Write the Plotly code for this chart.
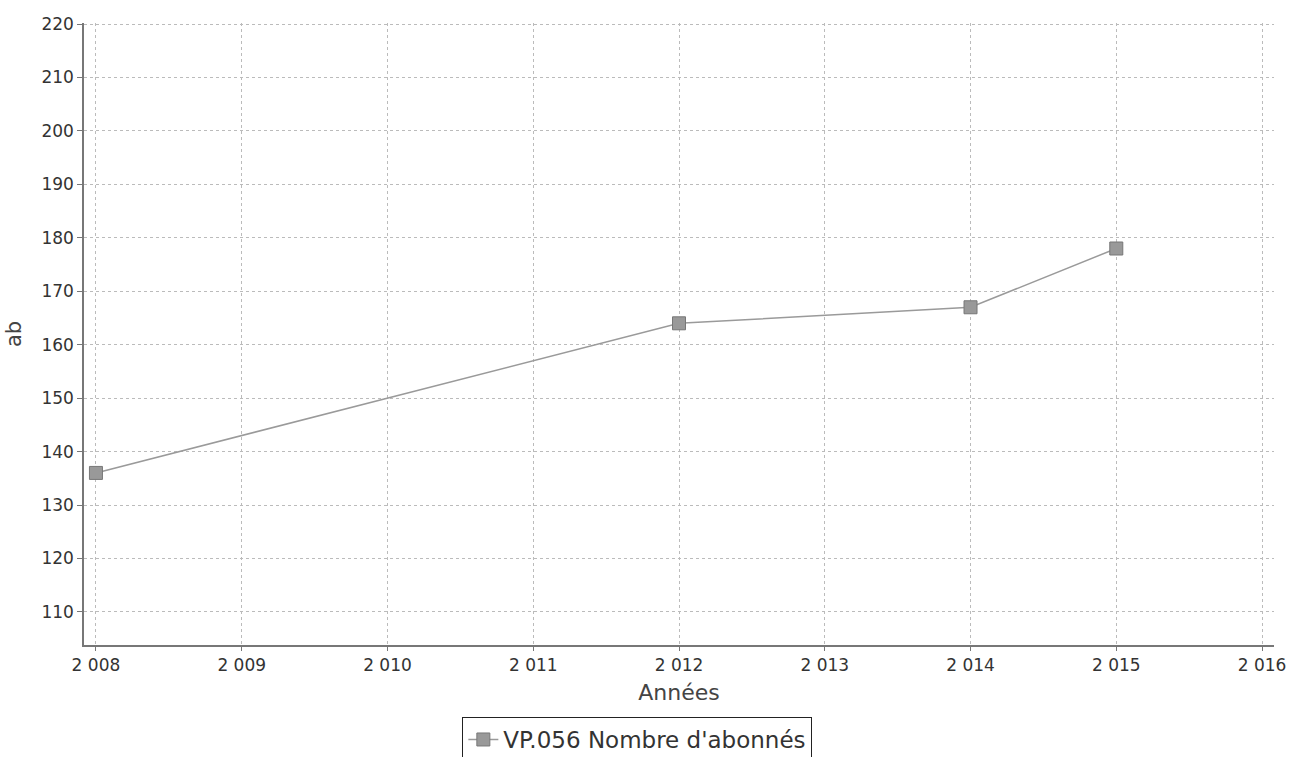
import plotly.graph_objects as go

years = [2008, 2012, 2014, 2015]
abonnes = [136, 164, 167, 178]
series_name = "VP.056 Nombre d'abonnés"
x_ticks = [2008, 2009, 2010, 2011, 2012, 2013, 2014, 2015, 2016]
x_ticklabels = ["2 008", "2 009", "2 010", "2 011", "2 012", "2 013", "2 014", "2 015", "2 016"]
y_ticks = [110, 120, 130, 140, 150, 160, 170, 180, 190, 200, 210, 220]

font_family = "DejaVu Sans"

fig = go.Figure()
fig.add_trace(go.Scatter(
    x=years, y=abonnes, mode="lines+markers", name=series_name,
    line=dict(color="#9a9a9a", width=1.5),
    marker=dict(symbol="square", size=13, color="#999999",
                line=dict(color="#777777", width=1)),
    showlegend=True,
))

fig.update_layout(
    width=1291, height=757,
    margin=dict(l=84, r=17, t=23, b=112),
    paper_bgcolor="white", plot_bgcolor="white",
    font=dict(family=font_family, color="#333333"),
    showlegend=True,
    legend=dict(
        x=0.465, y=0.0528, xanchor="center", yanchor="top",
        xref="paper", yref="container",
        orientation="h",
        bordercolor="#222222", borderwidth=1, bgcolor="white",
        font=dict(size=23, family=font_family, color="#333333"),
    ),
    xaxis=dict(
        range=[2007.918, 2016.082],
        automargin=False,
        tickvals=x_ticks, ticktext=x_ticklabels,
        tickfont=dict(size=17, color="#333333"),
        showgrid=True, gridcolor="#bbbbbb", griddash="dot", gridwidth=1,
        showline=True, linecolor="#777777", linewidth=1.5,
        ticks="outside", ticklen=4, tickcolor="#777777",
        zeroline=False,
        title=dict(text="Années", font=dict(size=22, color="#444444"), standoff=10),
    ),
    yaxis=dict(
        range=[103.8, 220.2],
        automargin=False,
        tickvals=y_ticks,
        tickfont=dict(size=17, color="#333333"),
        showgrid=True, gridcolor="#bbbbbb", griddash="dot", gridwidth=1,
        showline=True, linecolor="#777777", linewidth=1.5,
        ticks="outside", ticklen=5, tickcolor="#777777",
        zeroline=False,
        title=dict(text="ab", font=dict(size=21, color="#444444"), standoff=14),
    ),
)

fig.write_html("out.html", config={"displayModeBar": False},
               post_script="document.body.style.margin='0';")
